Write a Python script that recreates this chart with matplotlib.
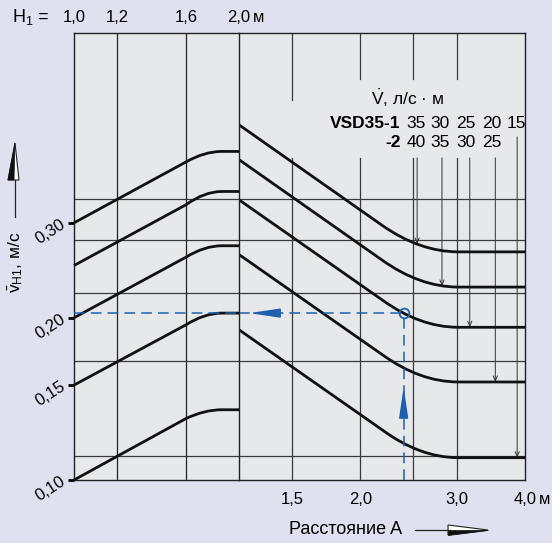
import matplotlib.pyplot as plt
from matplotlib.path import Path
from matplotlib.patches import PathPatch, Polygon
from matplotlib.lines import Line2D
from matplotlib.ticker import NullLocator

plt.rcParams['font.family'] = ['Liberation Sans', 'DejaVu Sans']
plt.rcParams['mathtext.fontset'] = 'custom'
plt.rcParams['mathtext.rm'] = 'Liberation Sans'
plt.rcParams['mathtext.it'] = 'Liberation Sans:italic'
plt.rcParams['mathtext.bf'] = 'Liberation Sans:bold'

# left part: mean air velocity over mounting height H1
h_knots = [1.0, 1.6, 1.73, 1.86, 2.0]
v_left = [
    [0.300, 0.389, 0.407, 0.407, 0.407],
    [0.250, 0.324, 0.343, 0.343, 0.343],
    [0.200, 0.259, 0.272, 0.272, 0.272],
    [0.150, 0.194, 0.204, 0.204, 0.204],
    [0.100, 0.130, 0.135, 0.135, 0.135],
]
# right part: velocity over distance A
a_knots = [1.2, 2.19, 2.57, 3.02, 4.0]
v_right = [
    [0.456, 0.297, 0.265, 0.265, 0.265],
    [0.393, 0.256, 0.228, 0.228, 0.228],
    [0.331, 0.216, 0.192, 0.192, 0.192],
    [0.262, 0.171, 0.152, 0.152, 0.152],
    [0.190, 0.124, 0.110, 0.110, 0.110],
]
codes = [Path.MOVETO, Path.LINETO, Path.CURVE3, Path.CURVE3, Path.LINETO]

h_ticks = [1.0, 1.2, 1.6, 2.0]
h_labels = ['1,0', '1,2', '1,6', '2,0']
a_ticks = [1.5, 2.0, 3.0, 4.0]
a_labels = ['1,5', '2,0', '3,0', '4,0']
a_grid = [1.5, 2.0, 2.5, 3.0]
v_ticks = [0.10, 0.15, 0.20, 0.30]
v_labels = ['0,10', '0,15', '0,20', '0,30']
v_grid = [0.111, 0.166, 0.222, 0.279, 0.332]

# flow rate table + pointers to the curves
flow_1 = ['35', '30', '25', '20', '15']
flow_2 = ['40', '35', '30', '25']
pointer_a = [2.54, 2.82, 3.17, 3.53, 3.87]
col_a = [2.53, 2.80, 3.12, 3.48, 3.85]
pointer_top = [0.396, 0.396, 0.396, 0.396, 0.433]
pointer_end = [0.274, 0.229, 0.192, 0.152, 0.110]

# worked example
ex_a = 2.40
ex_v = 0.204

W, H = 552, 543
bg = '#dfe1f1'
panel = '#e7e8ea'
blue = '#1f5fae'
gridc = '#3a3a3a'


def fx(px):
    return px / W


def fy(py):
    return 1 - py / H


fig = plt.figure(figsize=(W / 100, H / 100), dpi=100, facecolor=bg)
ax_r = fig.add_axes([fx(239), fy(480), 286 / W, 447 / H])
ax_l = fig.add_axes([fx(74), fy(480), 165 / W, 447 / H])
ax_l.set_zorder(2)

for ax in (ax_l, ax_r):
    ax.set_facecolor(panel)
    ax.set_xscale('log')
    ax.set_yscale('log')
    ax.set_ylim(0.1, 0.675)
    ax.xaxis.set_minor_locator(NullLocator())
    ax.yaxis.set_minor_locator(NullLocator())
    for s in ax.spines.values():
        s.set_color('#222222')
        s.set_linewidth(1.0)
    for v in v_grid:
        ax.axhline(v, color=gridc, lw=0.9, zorder=1)

ax_l.set_xlim(1.0, 2.0)
ax_r.set_xlim(1.2, 4.0)

# left panel
for h in h_ticks[1:3]:
    ax_l.axvline(h, color='#222222', lw=0.9, zorder=1)
ax_l.xaxis.tick_top()
ax_l.set_xticks(h_ticks)
ax_l.set_xticklabels(h_labels, fontsize=12)
ax_l.tick_params(axis='x', length=0, pad=6)
ax_l.set_yticks(v_ticks)
ax_l.set_yticklabels(v_labels, fontsize=12, rotation=33,
                     rotation_mode='anchor', ha='right', va='center')
ax_l.tick_params(axis='y', length=4, width=2, pad=3)
ax_l.annotate('м', xy=(2.0, 1), xycoords=('data', 'axes fraction'),
              xytext=(10, 6), textcoords='offset points',
              fontsize=12, ha='left', va='bottom')

for vs in v_left:
    p = Path(list(zip(h_knots, vs)), codes)
    ax_l.add_patch(PathPatch(p, fill=False, lw=2.0, ec='#111111',
                             capstyle='butt', zorder=3, clip_on=False))

# right panel
ax_r.set_yticks([])
ax_r.spines['left'].set_visible(False)
ax_r.set_xticks(a_ticks)
ax_r.set_xticklabels(a_labels, fontsize=12)
ax_r.tick_params(axis='x', length=0, pad=9)
ax_r.annotate('м', xy=(4.0, 0), xycoords=('data', 'axes fraction'),
              xytext=(10, -9), textcoords='offset points',
              fontsize=12, ha='left', va='top')

# vertical grid, broken where the flow table sits
for a in a_grid:
    top_gap = 0.507 if a == 1.5 else 0.555
    ax_r.plot([a, a], [top_gap, 0.675], color=gridc, lw=0.9, zorder=1)
    ax_r.plot([a, a], [0.1, 0.396], color=gridc, lw=0.9, zorder=1)

for vs in v_right:
    p = Path(list(zip(a_knots, vs)), codes)
    ax_r.add_patch(PathPatch(p, fill=False, lw=2.0, ec='#111111',
                             capstyle='butt', zorder=3, clip_on=False))

for a, vt, ve in zip(pointer_a, pointer_top, pointer_end):
    ax_r.annotate('', xy=(a, ve), xytext=(a, vt),
                  arrowprops=dict(arrowstyle='->,head_length=0.35,head_width=0.15',
                                  color='#333333', lw=0.7, shrinkA=0, shrinkB=0),
                  zorder=2)

# flow table
ax_r.text(2.435, 0.5095, r'$\dot{\mathrm{V}}$, л/с · м', fontsize=12.5,
          ha='center', va='center')
ax_r.text(2.37, 0.459, 'VSD35-1', fontsize=12.5, fontweight='bold',
          ha='right', va='center')
ax_r.text(2.37, 0.423, '-2', fontsize=12.5, fontweight='bold',
          ha='right', va='center')
for a, s in zip(col_a, flow_1):
    ax_r.text(a, 0.459, s, fontsize=12.5, ha='center', va='center')
for a, s in zip(col_a, flow_2):
    ax_r.text(a, 0.423, s, fontsize=12.5, ha='center', va='center')

# example reading (blue dashed)
ax_l.plot([1.0, 2.0], [ex_v, ex_v], color=blue, lw=1.1, ls=(0, (7, 4)),
          zorder=4)
ax_r.plot([1.2, ex_a], [ex_v, ex_v], color=blue, lw=1.1, ls=(0, (7, 4)),
          zorder=4)
ax_r.plot([ex_a, ex_a], [0.1, ex_v], color=blue, lw=1.1, ls=(0, (7, 4)),
          zorder=4)
ax_r.plot([ex_a], [ex_v], 'o', mfc='none', mec=blue, mew=1.3, ms=7, zorder=5)
ax_r.annotate('', xy=(1.252, ex_v), xytext=(1.402, ex_v),
              arrowprops=dict(arrowstyle='-|>,head_length=1.9,head_width=0.28',
                              color=blue, lw=1, shrinkA=0, shrinkB=0), zorder=5)
ax_r.annotate('', xy=(ex_a, 0.1488), xytext=(ex_a, 0.132),
              arrowprops=dict(arrowstyle='-|>,head_length=1.9,head_width=0.28',
                              color=blue, lw=1, shrinkA=0, shrinkB=0), zorder=5)

# outer labels
fig.text(fx(12), fy(17), r'H$_1$ =', fontsize=13, ha='left', va='center')
fig.text(fx(346), fy(530), 'Расстояние A', fontsize=13, ha='center',
         va='center')
fig.text(fx(16), fy(262), r'$\bar{\mathrm{v}}_{\mathrm{H1}}$, м/с',
         fontsize=12.5, rotation=90, ha='center', va='center')

# decorative axis arrows
fig.add_artist(Line2D([fx(415), fx(450)], [fy(530), fy(530)], color='#222222',
                      lw=0.9, transform=fig.transFigure))
fig.add_artist(Polygon([(fx(488), fy(530)), (fx(448), fy(525)),
                        (fx(448), fy(535))], closed=True, fc='white',
                       ec='#222222', lw=0.8, transform=fig.transFigure))
fig.add_artist(Polygon([(fx(488), fy(530)), (fx(448), fy(530)),
                        (fx(448), fy(535))], closed=True, fc='#111111',
                       ec='#111111', lw=0.5, transform=fig.transFigure))
fig.add_artist(Line2D([fx(15), fx(15)], [fy(217), fy(180)], color='#222222',
                      lw=0.9, transform=fig.transFigure))
fig.add_artist(Polygon([(fx(15), fy(143)), (fx(8), fy(180)),
                        (fx(19), fy(180))], closed=True, fc='white',
                       ec='#222222', lw=0.8, transform=fig.transFigure))
fig.add_artist(Polygon([(fx(15), fy(143)), (fx(8), fy(180)),
                        (fx(14), fy(180))], closed=True, fc='#111111',
                       ec='#111111', lw=0.5, transform=fig.transFigure))

fig.savefig('out.png', dpi=100, facecolor=bg)
